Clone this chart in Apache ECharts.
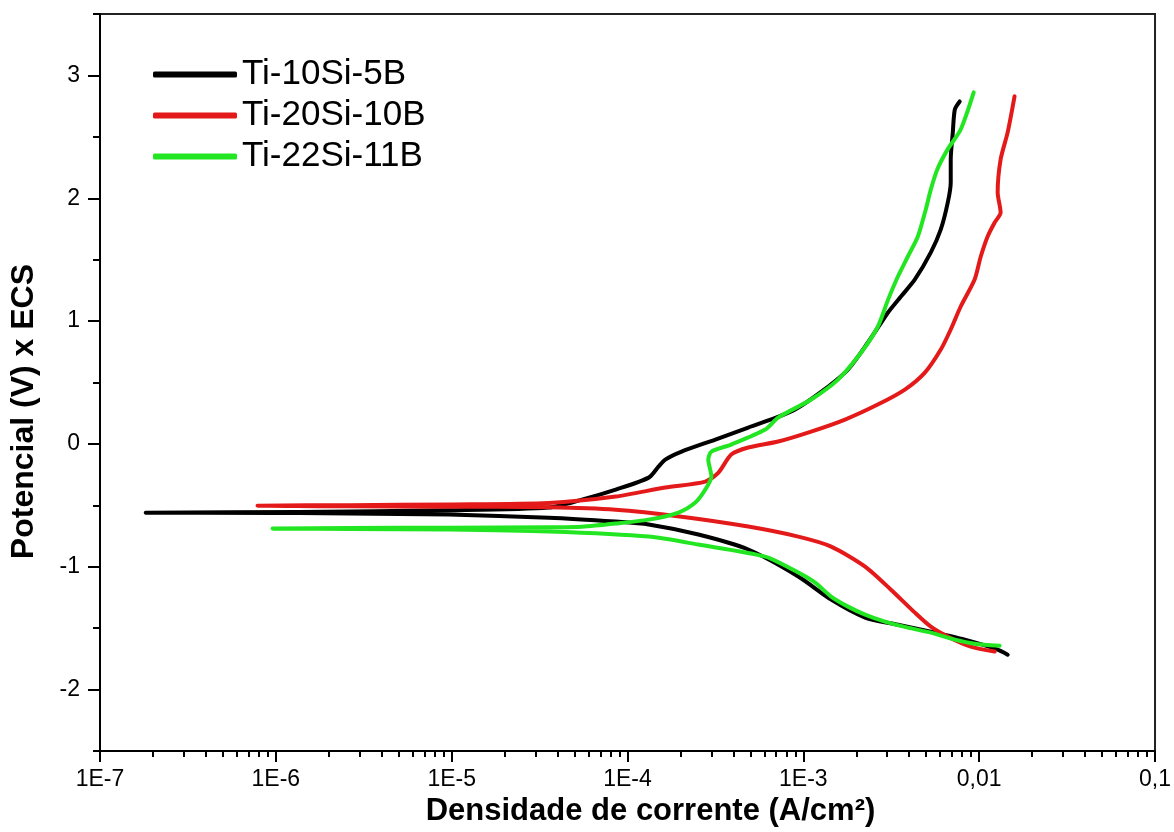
<!DOCTYPE html>
<html>
<head>
<meta charset="utf-8">
<script src="https://cdn.jsdelivr.net/npm/echarts@6/dist/echarts.min.js"></script>
<style>
html,body{margin:0;padding:0;background:#fff;}
#chart{width:1174px;height:832px;}
</style>
</head>
<body>
<div id="chart"></div>
<script>
// ---- Data (current density A/cm², potential V vs ECS) ----
const seriesNames = ['Ti-10Si-5B', 'Ti-20Si-10B', 'Ti-22Si-11B'];

const blackI = [0.01452, 0.01274, 0.00828, 0.00531, 0.00345, 0.002245, 0.001439, 0.000936, 4.86e-4, 2.53e-4, 1.32e-4, 8.57e-5, 3.56e-5, 9.66e-6, 1.36e-6, 1.82e-7,
  1.36e-6, 9.66e-6, 3.56e-5, 5.50e-5, 8.57e-5, 1.32e-4, 1.50e-4, 1.64e-4, 2.03e-4, 3.16e-4, 4.86e-4, 8.97e-4, 1.726e-3, 2.33e-3, 3.03e-3, 3.59e-3, 4.31e-3, 5.31e-3, 6.05e-3, 6.63e-3, 6.89e-3, 6.89e-3, 7.08e-3, 7.27e-3, 7.75e-3];
const blackE = [-1.715, -1.674, -1.593, -1.528, -1.471, -1.413, -1.267, -1.079, -0.859, -0.737, -0.655, -0.632, -0.600, -0.575, -0.562, -0.559,
  -0.553, -0.540, -0.518, -0.453, -0.371, -0.274, -0.184, -0.127, -0.062, 0.036, 0.134, 0.280, 0.581, 0.826, 1.070, 1.200, 1.339, 1.559, 1.746, 1.966, 2.129, 2.316, 2.536, 2.723, 2.788];

const redI = [0.01225, 0.00896, 0.00663, 0.00531, 0.00431, 0.00315, 0.002245, 0.001439, 0.000936, 4.86e-4, 2.03e-4, 8.57e-5, 3.56e-5, 9.66e-6, 2.62e-6, 7.87e-7,
  2.62e-6, 9.66e-6, 3.56e-5, 8.57e-5, 1.64e-4, 2.77e-4, 3.29e-4, 3.89e-4, 4.86e-4, 7.19e-4, 1.107e-3, 1.726e-3, 2.65e-3, 3.78e-3, 4.91e-3, 6.05e-3, 6.89e-3, 7.85e-3, 9.42e-3, 0.01021, 0.01117, 0.01225, 0.01324, 0.01274, 0.01324, 0.01452, 0.01589];
const redE = [-1.690, -1.649, -1.568, -1.487, -1.373, -1.186, -0.998, -0.835, -0.754, -0.672, -0.592, -0.535, -0.515, -0.510, -0.507, -0.502,
  -0.498, -0.492, -0.480, -0.428, -0.354, -0.306, -0.233, -0.086, -0.029, 0.020, 0.101, 0.199, 0.321, 0.443, 0.581, 0.769, 0.932, 1.119, 1.339, 1.526, 1.689, 1.803, 1.884, 2.048, 2.316, 2.536, 2.830];

const greenI = [0.01306, 0.00942, 0.00727, 0.00531, 0.00393, 0.00291, 0.002245, 0.001795, 0.001439, 0.001167, 0.000936, 0.000607, 2.53e-4, 1.32e-4, 3.56e-5, 9.66e-6, 2.62e-6, 9.58e-7,
  2.62e-6, 9.66e-6, 3.56e-5, 5.50e-5, 8.57e-5, 1.32e-4, 1.95e-4, 2.43e-4, 2.77e-4, 3.00e-4, 2.88e-4, 3.00e-4, 3.89e-4, 6.07e-4, 7.19e-4, 1.107e-3, 1.574e-3, 2.13e-3, 2.65e-3, 3.03e-3, 3.45e-3, 3.93e-3, 4.48e-3, 4.97e-3, 5.31e-3, 5.80e-3, 6.63e-3, 7.85e-3, 9.31e-3];
const greenE = [-1.642, -1.626, -1.593, -1.536, -1.495, -1.446, -1.389, -1.324, -1.242, -1.129, -1.047, -0.917, -0.819, -0.754, -0.713, -0.697, -0.692, -0.689,
  -0.684, -0.681, -0.678, -0.673, -0.648, -0.616, -0.558, -0.477, -0.371, -0.265, -0.127, -0.062, -0.005, 0.117, 0.215, 0.362, 0.524, 0.744, 0.954, 1.173, 1.363, 1.526, 1.689, 1.909, 2.072, 2.240, 2.400, 2.560, 2.862];

// ---- Axis ticks ----
const xTickValues = [1e-7, 1e-6, 1e-5, 1e-4, 1e-3, 1e-2, 1e-1];
const xTickLabels = ['1E-7', '1E-6', '1E-5', '1E-4', '1E-3', '0,01', '0,1'];
const yTickValues = [-2, -1, 0, 1, 2, 3];
const yTickLabels = ['-2', '-1', '0', '1', '2', '3'];
const yMinorValues = [-2.5, -1.5, -0.5, 0.5, 1.5, 2.5, 3.5];
const xMinorMultipliers = [2, 3, 4, 5, 6, 7, 8, 9];

const xMinorValues = [];
for (let d = 0; d < xTickValues.length - 1; d++) {
  for (const m of xMinorMultipliers) xMinorValues.push(+(m * xTickValues[d]).toPrecision(6));
}

function zip(a, b) { return a.map((v, i) => [v, b[i]]); }

const FONT = 'Liberation Sans, Arial, sans-serif';
const colors = ['#000000', '#e41a1a', '#22e622'];

const chart = echarts.init(document.getElementById('chart'), null, {renderer: 'canvas'});
const option = {
  backgroundColor: '#ffffff',
  animation: false,
  grid: {left: 100, right: 16, top: 14, bottom: 80, show: true, borderColor: '#222', borderWidth: 2, backgroundColor: 'transparent'},
  legend: {
    orient: 'vertical',
    left: 148,
    top: 49,
    itemWidth: 84,
    itemHeight: 6,
    itemGap: 0,
    icon: 'roundRect',
    data: seriesNames,
    textStyle: {fontSize: 35, fontFamily: FONT, color: '#000', lineHeight: 41, padding: [0, 0, 0, 0]}
  },
  xAxis: [{
    type: 'log', logBase: 10, min: 1e-7, max: 0.1,
    position: 'bottom',
    name: 'Densidade de corrente (A/cm²)',
    nameLocation: 'middle', nameGap: 40,
    nameTextStyle: {fontSize: 31, fontWeight: 'bold', fontFamily: FONT, color: '#000', padding: [0, 0, 0, 46]},
    axisLine: {show: true, onZero: false, lineStyle: {color: '#000', width: 2}},
    axisTick: {show: true, inside: false, length: 11, lineStyle: {color: '#000', width: 2}, customValues: xTickValues},
    axisLabel: {show: true, margin: 17, fontSize: 23, fontFamily: FONT, color: '#000', customValues: xTickValues,
      formatter: function (v) {
        for (let i = 0; i < xTickValues.length; i++) {
          if (Math.abs(Math.log10(v) - Math.log10(xTickValues[i])) < 1e-6) return xTickLabels[i];
        }
        return '';
      }},
    splitLine: {show: false},
    minorTick: {show: false}
  }, {
    type: 'log', logBase: 10, min: 1e-7, max: 0.1,
    position: 'bottom', gridIndex: 0,
    axisLine: {show: false, onZero: false},
    axisTick: {show: true, inside: false, length: 6, lineStyle: {color: '#000', width: 2}, customValues: xMinorValues},
    axisLabel: {show: false},
    splitLine: {show: false}
  }],
  yAxis: [{
    type: 'value', min: -2.5, max: 3.5,
    position: 'left',
    name: 'Potencial (V) x ECS',
    nameLocation: 'middle', nameGap: 60, nameRotate: 90,
    nameTextStyle: {fontSize: 32, fontWeight: 'bold', fontFamily: FONT, color: '#000', padding: [0, 58, 0, 0]},
    axisLine: {show: true, onZero: false, lineStyle: {color: '#000', width: 2}},
    axisTick: {show: true, inside: false, length: 12, lineStyle: {color: '#000', width: 2}, customValues: yTickValues},
    axisLabel: {show: true, margin: 20, fontSize: 23, fontFamily: FONT, color: '#000', customValues: yTickValues,
      formatter: function (v) {
        const i = yTickValues.findIndex(t => Math.abs(t - v) < 1e-9);
        return i >= 0 ? yTickLabels[i] : '';
      }},
    splitLine: {show: false}
  }, {
    type: 'value', min: -2.5, max: 3.5,
    position: 'left', gridIndex: 0,
    axisLine: {show: false, onZero: false},
    axisTick: {show: true, inside: false, length: 7, lineStyle: {color: '#000', width: 2}, customValues: yMinorValues},
    axisLabel: {show: false},
    splitLine: {show: false}
  }],
  series: [
    {name: seriesNames[0], type: 'line', data: zip(blackI, blackE), color: colors[0]},
    {name: seriesNames[1], type: 'line', data: zip(redI, redE), color: colors[1]},
    {name: seriesNames[2], type: 'line', data: zip(greenI, greenE), color: colors[2]}
  ].map(s => Object.assign(s, {
    xAxisIndex: 0, yAxisIndex: 0,
    showSymbol: false, symbol: 'none', smooth: 0.25,
    lineStyle: {width: 4, color: s.color, cap: 'round', join: 'round'},
    itemStyle: {color: s.color}
  }))
};
chart.setOption(option);
</script>
</body>
</html>
